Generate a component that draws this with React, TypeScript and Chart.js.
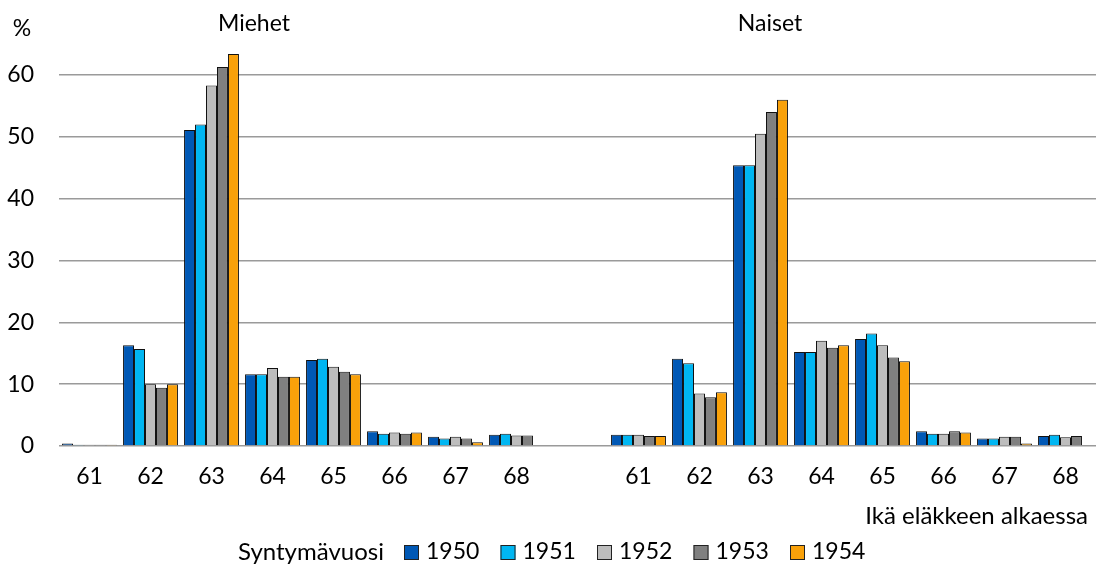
import React, { useEffect, useRef } from "react";
import { Chart, registerables } from "chart.js";

Chart.register(...registerables);

const ages = ["61", "62", "63", "64", "65", "66", "67", "68"];
const years = ["1950", "1951", "1952", "1953", "1954"];
const colors = ["#0058B5", "#00B6F2", "#BDBDBD", "#808080", "#F9A10A"];

// Miehet (men)
const m1950 = [0.4, 16.3, 51.1, 11.6, 13.9, 2.4, 1.5, 1.8];
const m1951 = [0.2, 15.7, 52.0, 11.6, 14.1, 2.0, 1.2, 2.0];
const m1952 = [0.2, 10.0, 58.3, 12.6, 12.8, 2.2, 1.5, 1.7];
const m1953 = [0.2, 9.4, 61.3, 11.2, 12.0, 2.0, 1.2, 1.7];
const m1954 = [0.2, 10.0, 63.4, 11.2, 11.6, 2.2, 0.6, null];

// Naiset (women)
const n1950 = [1.8, 14.1, 45.4, 15.2, 17.3, 2.4, 1.2, 1.6];
const n1951 = [1.8, 13.4, 45.4, 15.2, 18.2, 2.0, 1.2, 1.8];
const n1952 = [1.8, 8.5, 50.5, 17.0, 16.3, 2.0, 1.5, 1.4];
const n1953 = [1.6, 7.9, 54.0, 15.9, 14.3, 2.4, 1.5, 1.6];
const n1954 = [1.6, 8.7, 56.0, 16.3, 13.7, 2.2, 0.4, null];

const menSeries = [m1950, m1951, m1952, m1953, m1954];
const womenSeries = [n1950, n1951, n1952, n1953, n1954];

const groupTitles = ["Miehet", "Naiset"];
const yUnit = "%";
const xTitle = "Ikä eläkkeen alkaessa";
const legendTitle = "Syntymävuosi";

const FONT = "Lato";
const FS = 23;

const textPlugin = {
  id: "texts",
  afterDraw(chart: any) {
    const ctx = chart.ctx;
    ctx.save();
    ctx.fillStyle = "#000";
    ctx.font = `${FS}px ${FONT}`;
    ctx.textBaseline = "middle";
    ctx.textAlign = "center";
    ctx.fillText(groupTitles[0], 254, 24);
    ctx.fillText(groupTitles[1], 770, 24);
    ctx.fillText(yUnit, 22, 29);
    ctx.font = `24px ${FONT}`;
    ctx.textAlign = "right";
    ctx.fillText(xTitle, 1088, 516);
    // legend
    ctx.textAlign = "left";
    ctx.fillText(legendTitle, 238, 552);
    ctx.font = `${FS}px ${FONT}`;
    let x = 404;
    chart.data.datasets.forEach((ds: any) => {
      ctx.fillStyle = ds.backgroundColor;
      ctx.fillRect(x, 545, 15, 15);
      ctx.strokeStyle = "#222";
      ctx.lineWidth = 1;
      ctx.strokeRect(x + 0.5, 545.5, 14, 14);
      ctx.fillStyle = "#000";
      ctx.fillText(ds.label, x + 22, 552);
      x += 96.5;
    });
    ctx.restore();
  },
};

export default function App() {
  const ref = useRef<HTMLCanvasElement>(null);
  useEffect(() => {
    const labels = [...ages, "", ...ages];
    const chart = new Chart(ref.current as HTMLCanvasElement, {
      type: "bar",
      data: {
        labels,
        datasets: years.map((y, i) => ({
          label: y,
          data: [...menSeries[i], null, ...womenSeries[i]],
          backgroundColor: colors[i],
          borderColor: "#111",
          borderWidth: 1,
          categoryPercentage: 0.9,
          barPercentage: 1.0,
        })),
      },
      options: {
        animation: false,
        responsive: false,
        layout: { padding: { top: 44, right: 2, left: 0, bottom: 0 } },
        plugins: { legend: { display: false }, tooltip: { enabled: false } },
        scales: {
          x: {
            grid: { display: false },
            border: { display: false },
            ticks: { color: "#000", font: { family: FONT, size: FS }, padding: 9, maxRotation: 0, autoSkip: false },
            afterFit: (s: any) => {
              s.height = 122;
            },
          },
          y: {
            min: 0,
            max: 65,
            border: { display: false },
            grid: { color: "#9A9A9A", lineWidth: 1.5, drawTicks: false },
            ticks: { stepSize: 10, color: "#000", font: { family: FONT, size: FS }, padding: 25 },
            afterBuildTicks: (s: any) => {
              s.ticks = s.ticks.filter((t: any) => t.value % 10 === 0);
            },
            afterFit: (s: any) => {
              s.width = 59;
            },
          },
        },
      },
      plugins: [textPlugin],
    });
    return () => chart.destroy();
  }, []);
  return (
    <div style={{ position: "absolute", left: 0, top: 0, width: 1098, height: 568, background: "#fff" }}>
      <canvas ref={ref} width={1098} height={568} style={{ width: 1098, height: 568 }} />
    </div>
  );
}
